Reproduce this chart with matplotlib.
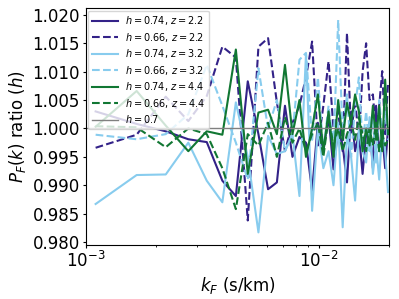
import numpy as np
import matplotlib
matplotlib.use('Agg')
import matplotlib.pyplot as plt

# k grid (s/km)
k = 0.00055 * np.arange(2, 37)

# flux power ratios
h074_z22 = [1.0030, 1.0008, 0.9995, 0.9981, 0.9976, 0.9908, 0.9881, 1.0083, 0.9990, 0.9893,
            0.9905, 1.0040, 0.9950, 0.9985, 0.9975, 0.9890, 1.0010, 0.9960, 1.0020, 0.9928,
            1.0000, 0.9970, 0.9905, 1.0030, 0.9960, 0.9990, 0.9920, 0.9990, 1.0010, 0.9930,
            1.0040, 0.9960, 0.9990, 0.9930, 1.0000]
h066_z22 = [0.9966, 0.9989, 1.0056, 1.0013, 1.0057, 1.0144, 1.0125, 0.9838, 1.0144, 1.0159,
            1.0046, 0.9960, 1.0010, 1.0040, 1.0090, 1.0153, 0.9970, 1.0040, 1.0118, 1.0000,
            1.0030, 0.9960, 1.0168, 0.9990, 1.0050, 0.9980, 1.0100, 1.0150, 1.0050, 1.0060,
            0.9990, 1.0040, 1.0101, 0.9990, 1.0080]
h074_z32 = [0.9867, 0.9918, 0.9919, 0.9975, 0.9908, 0.9870, 1.0046, 0.9950, 0.9817, 0.9987,
            0.9955, 0.9960, 0.9990, 0.9881, 1.0130, 0.9855, 1.0000, 0.9930, 0.9960, 0.9900,
            1.0010, 0.9826, 0.9990, 0.9950, 0.9873, 1.0000, 0.9960, 0.9940, 1.0020, 0.9920,
            0.9970, 0.9910, 1.0000, 0.9960, 0.9888]
h066_z32 = [0.9989, 0.9981, 0.9990, 1.0025, 1.0112, 1.0040, 0.9975, 0.9910, 1.0106, 1.0000,
            1.0050, 0.9960, 0.9990, 1.0121, 1.0133, 0.9980, 1.0090, 0.9960, 1.0040, 0.9970,
            1.0191, 0.9990, 1.0060, 0.9950, 1.0040, 1.0090, 0.9970, 1.0030, 0.9960, 1.0020,
            0.9940, 1.0050, 0.9990, 1.0030, 0.9980]
h074_z44 = [1.0003, 1.0066, 1.0005, 0.9960, 0.9995, 0.9989, 1.0139, 0.9920, 1.0028, 1.0033,
            0.9990, 1.0112, 0.9990, 1.0050, 0.9950, 1.0000, 1.0060, 0.9960, 1.0030, 0.9950,
            1.0050, 0.9980, 1.0045, 1.0010, 1.0060, 1.0030, 0.9960, 1.0000, 0.9970, 1.0040,
            0.9980, 1.0040, 0.9960, 1.0086, 0.9990]
h066_z44 = [1.0004, 1.0002, 0.9967, 1.0000, 0.9990, 0.9930, 0.9858, 0.9990, 0.9970, 1.0010,
            0.9950, 1.0020, 0.9975, 1.0000, 0.9960, 0.9990, 1.0010, 0.9950, 1.0020, 0.9970,
            1.0000, 0.9960, 0.9990, 1.0010, 0.9980, 1.0020, 0.9990, 0.9960, 1.0000, 0.9970,
            1.0010, 0.9960, 0.9990, 0.9970, 0.9980]

indigo = '#332288'
lblue = '#88CCEE'
green = '#117733'

fig = plt.figure(figsize=(3.99, 2.99), dpi=100)
ax = fig.add_axes([0.2155, 0.181, 0.7595, 0.792])

ax.plot(k, h074_z22, color=indigo, ls='-', lw=1.5, label='$h=0.74$, $z=2.2$')
ax.plot(k, h066_z22, color=indigo, ls='--', lw=1.5, label='$h=0.66$, $z=2.2$')
ax.plot(k, h074_z32, color=lblue, ls='-', lw=1.5, label='$h=0.74$, $z=3.2$')
ax.plot(k, h066_z32, color=lblue, ls='--', lw=1.5, label='$h=0.66$, $z=3.2$')
ax.plot(k, h074_z44, color=green, ls='-', lw=1.5, label='$h=0.74$, $z=4.4$')
ax.plot(k, h066_z44, color=green, ls='--', lw=1.5, label='$h=0.66$, $z=4.4$')
ax.axhline(1.0, color='grey', lw=1, label='$h=0.7$')

ax.set_xscale('log')
ax.set_xlim(1e-3, 0.02)
ax.set_ylim(0.9795, 1.0212)
ax.set_yticks([0.980, 0.985, 0.990, 0.995, 1.000, 1.005, 1.010, 1.015, 1.020])
ax.tick_params(which='major', labelsize=12, length=2.5, pad=2)
ax.tick_params(which='minor', length=1.5)
ax.set_xlabel('$k_F$ (s/km)', fontsize=12, labelpad=3)
ax.set_ylabel('$P_F(k)$ ratio $(h)$', fontsize=12, labelpad=3)
ax.legend(loc='upper left', fontsize=7, labelspacing=0.36, handlelength=2.6,
          handletextpad=0.8, borderaxespad=0.25)

fig.savefig('out.png', dpi=100)
